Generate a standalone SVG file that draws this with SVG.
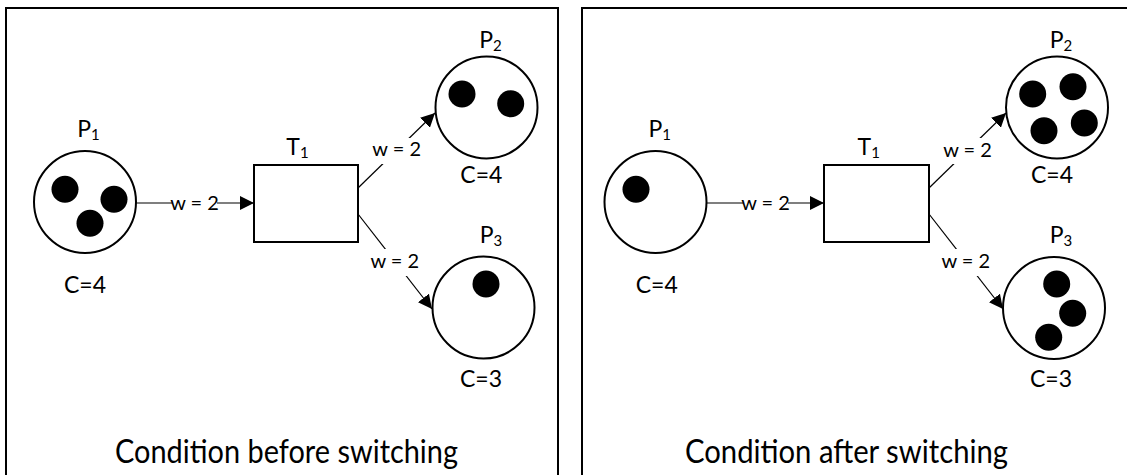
<svg xmlns="http://www.w3.org/2000/svg" width="1127" height="475" viewBox="0 0 1127 475">
<style>
.frame{fill:none;stroke:#000;stroke-width:2}
.place{fill:#fff;stroke:#000;stroke-width:2}
.trans{fill:#fff;stroke:#000;stroke-width:2}
.tok{fill:#000}
.edge{stroke:#000;stroke-width:1.2;fill:none}
.bg{fill:#fff}
text{font-family:Lato,"Open Sans",sans-serif;fill:#000}
.lbl{font-size:23px;text-anchor:middle}
.w{font-size:20px;text-anchor:middle}
.cap{font-size:32px}
.sub{font-size:15px}
</style>
<defs>
<marker id="ah" markerWidth="14" markerHeight="14" refX="14" refY="7" orient="auto" markerUnits="userSpaceOnUse">
<path d="M0,0 L14,7 L0,14 z" fill="#000"/>
</marker>
</defs>
<g id="frame-before"><rect class="frame" x="6" y="8" width="552" height="490"/></g>
<g id="frame-after"><rect class="frame" x="582" y="8" width="570" height="490"/></g>

<g id="connectors">
<line class="edge" x1="136" y1="203" x2="254" y2="203" marker-end="url(#ah)"/>
<line class="edge" x1="358" y1="188" x2="435" y2="113" marker-end="url(#ah)"/>
<line class="edge" x1="358" y1="214" x2="432" y2="309" marker-end="url(#ah)"/>
<line class="edge" x1="707" y1="203" x2="824" y2="203" marker-end="url(#ah)"/>
<line class="edge" x1="929" y1="188" x2="1006" y2="113" marker-end="url(#ah)"/>
<line class="edge" x1="929" y1="214" x2="1003" y2="309" marker-end="url(#ah)"/>
<rect class="bg" x="172" y="195" width="45" height="17"/>
<rect class="bg" x="373" y="138" width="47" height="26"/>
<rect class="bg" x="371" y="249" width="47" height="27"/>
<rect class="bg" x="743" y="195" width="45" height="17"/>
<rect class="bg" x="944" y="138" width="47" height="26"/>
<rect class="bg" x="942" y="249" width="47" height="27"/>
<text class="w" x="194.5" y="210">w = 2</text>
<text class="w" x="396.7" y="156">w = 2</text>
<text class="w" x="394.8" y="268">w = 2</text>
<text class="w" x="765.5" y="210">w = 2</text>
<text class="w" x="967.5" y="156.5">w = 2</text>
<text class="w" x="965.8" y="268">w = 2</text>
</g>

<g id="before-P1">
<circle class="place" cx="85" cy="202" r="51"/>
<circle class="tok" cx="65" cy="189.3" r="13.5"/>
<circle class="tok" cx="114" cy="199.3" r="13.5"/>
<circle class="tok" cx="90" cy="223.3" r="13.5"/>
<text class="lbl" x="88.5" y="136.7">P<tspan class="sub" dy="3">1</tspan></text>
<text class="lbl" x="85" y="293">C=4</text>
</g>
<g id="before-T1">
<rect class="trans" x="254" y="165" width="104" height="77"/>
<text class="lbl" x="297.5" y="155">T<tspan class="sub" dy="3">1</tspan></text>
</g>
<g id="before-P2">
<circle class="place" cx="486.5" cy="107.5" r="51"/>
<circle class="tok" cx="462" cy="94" r="13.5"/>
<circle class="tok" cx="510.7" cy="103.7" r="13.5"/>
<text class="lbl" x="490.5" y="48.3">P<tspan class="sub" dy="3">2</tspan></text>
<text class="lbl" x="481.3" y="183.3">C=4</text>
</g>
<g id="before-P3">
<circle class="place" cx="483.5" cy="307.5" r="51"/>
<circle class="tok" cx="486" cy="284" r="13.5"/>
<text class="lbl" x="491" y="243.3">P<tspan class="sub" dy="3">3</tspan></text>
<text class="lbl" x="481" y="386.7">C=3</text>
</g>
<g id="before-caption"><text class="cap" x="115" y="463" textLength="343" lengthAdjust="spacingAndGlyphs">Condition before switching</text></g>

<g id="after-P1">
<circle class="place" cx="655.5" cy="202" r="51"/>
<circle class="tok" cx="636" cy="189.3" r="13.5"/>
<text class="lbl" x="659.7" y="136.7">P<tspan class="sub" dy="3">1</tspan></text>
<text class="lbl" x="656.7" y="293">C=4</text>
</g>
<g id="after-T1">
<rect class="trans" x="824" y="165" width="105" height="77"/>
<text class="lbl" x="868.7" y="155">T<tspan class="sub" dy="3">1</tspan></text>
</g>
<g id="after-P2">
<circle class="place" cx="1057" cy="107.5" r="51"/>
<circle class="tok" cx="1032.7" cy="94" r="13.5"/>
<circle class="tok" cx="1073" cy="86.7" r="13.5"/>
<circle class="tok" cx="1044" cy="130.7" r="13.5"/>
<circle class="tok" cx="1084.3" cy="123" r="13.5"/>
<text class="lbl" x="1061" y="48.3">P<tspan class="sub" dy="3">2</tspan></text>
<text class="lbl" x="1052" y="183.3">C=4</text>
</g>
<g id="after-P3">
<circle class="place" cx="1054" cy="308" r="51"/>
<circle class="tok" cx="1056.7" cy="284" r="13.5"/>
<circle class="tok" cx="1072.7" cy="313.3" r="13.5"/>
<circle class="tok" cx="1048.7" cy="337.3" r="13.5"/>
<text class="lbl" x="1061" y="243.3">P<tspan class="sub" dy="3">3</tspan></text>
<text class="lbl" x="1051" y="386.7">C=3</text>
</g>
<g id="after-caption"><text class="cap" x="685" y="463" textLength="323" lengthAdjust="spacingAndGlyphs">Condition after switching</text></g>
</svg>
